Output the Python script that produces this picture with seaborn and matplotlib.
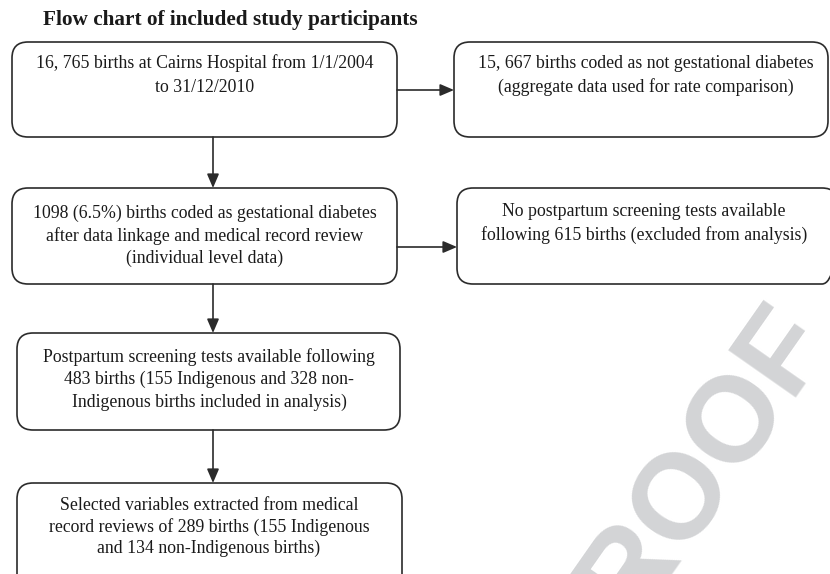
import matplotlib
matplotlib.use("Agg")
import matplotlib.pyplot as plt
from matplotlib.patches import FancyBboxPatch
import seaborn as sns

# ---- content ----
title = "Flow chart of included study participants"
box_texts = [
    ["16, 765 births at Cairns Hospital from 1/1/2004", "to 31/12/2010"],
    ["15, 667 births coded as not gestational diabetes", "(aggregate data used for rate comparison)"],
    ["1098 (6.5%) births coded as gestational diabetes", "after data linkage and medical record review", "(individual level data)"],
    ["No postpartum screening tests available", "following 615 births (excluded from analysis)"],
    ["Postpartum screening tests available following", "483 births (155 Indigenous and 328 non-", "Indigenous births included in analysis)"],
    ["Selected variables extracted from medical", "record reviews of 289 births (155 Indigenous", "and 134 non-Indigenous births)"],
]
watermark = "PROOF"

# ---- layout (pixel units: x0, y0, x1, y1, text centre x, first line y, line gap) ----
boxes = [
    (12, 42, 397, 137, 205, 63, 24),
    (454, 42, 828, 137, 646, 63, 24),
    (12, 188, 397, 284, 205, 213, 22.6),
    (457, 188, 838, 284, 644, 212, 23.2),
    (17, 333, 400, 430, 209, 357, 22.6),
    (17, 483, 402, 590, 209, 505, 21.6),
]
arrows = [  # (x_start, y_start, x_end, y_end)
    (397, 90, 454, 90),
    (213, 137, 213, 188),
    (397, 247, 457, 247),
    (213, 284, 213, 333),
    (213, 430, 213, 483),
]

sns.set_theme(style="white")
plt.rcParams["font.family"] = ["Liberation Serif", "DejaVu Serif"]

W, H = 830, 574
fig = plt.figure(figsize=(W / 100, H / 100), dpi=100)
ax = fig.add_axes([0, 0, 1, 1])
ax.set_xlim(0, W)
ax.set_ylim(H, 0)
ax.axis("off")

edge = "#2b2b2b"
lw = 1.2

# watermark
ax.text(683, 494, watermark, color="#d3d4d6", fontsize=87, family="Liberation Sans",
        fontweight="bold", ha="center", va="center", rotation=55,
        rotation_mode="anchor", zorder=0)

ax.text(230, 20, title, ha="center", va="center", fontsize=15.3,
        fontweight="bold", color="#1a1a1a")

for (x0, y0, x1, y1, tx, ty, gap), lines in zip(boxes, box_texts):
    p = FancyBboxPatch((x0, y0), x1 - x0, y1 - y0,
                       boxstyle="round,pad=0,rounding_size=16",
                       fc="none", ec=edge, lw=lw, zorder=2)
    ax.add_patch(p)
    for i, s in enumerate(lines):
        ax.text(tx, ty + i * gap, s, ha="center", va="center",
                fontsize=12.8, color="#1a1a1a", zorder=3)

for xs, ys, xe, ye in arrows:
    ax.annotate("", xy=(xe, ye), xytext=(xs, ys),
                arrowprops=dict(arrowstyle="-|>,head_length=0.7,head_width=0.3",
                                color=edge, lw=lw, shrinkA=0, shrinkB=0,
                                mutation_scale=12), zorder=2)

fig.savefig("out.png", dpi=100, facecolor="white")
